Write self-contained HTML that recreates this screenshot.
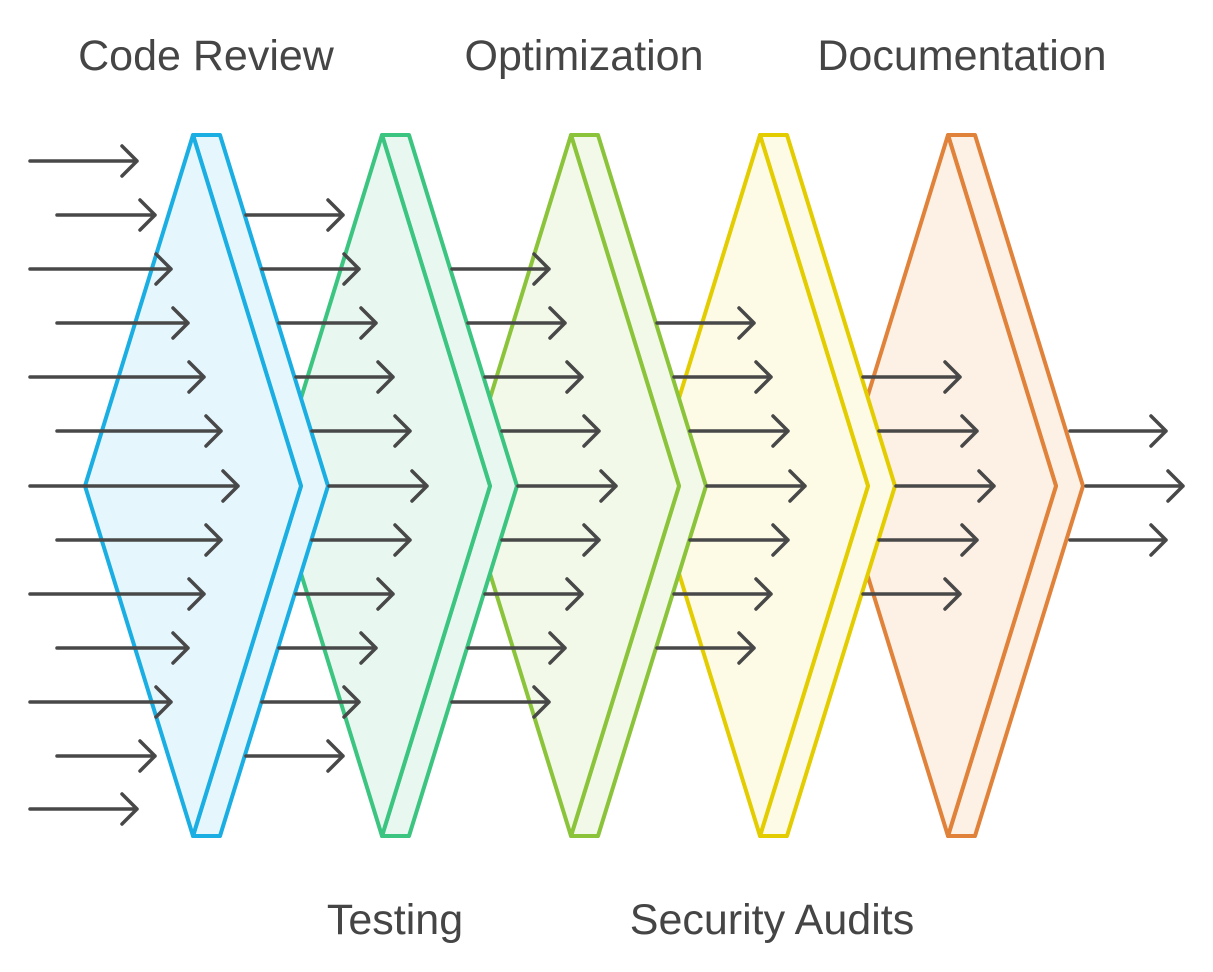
<!DOCTYPE html>
<html><head><meta charset="utf-8"><style>
html,body{margin:0;padding:0;background:#fff;}
svg{display:block;}
text{font-family:"Liberation Sans",sans-serif;font-size:43px;fill:#454545;}
</style></head><body>
<svg width="1213" height="972" viewBox="0 0 1213 972" xmlns="http://www.w3.org/2000/svg">
<defs>
<g id="stage">
<polygon points="0,0 27,0 135,351 27,701 0,701 108,351"/>
<polygon points="-108,351 0,0 108,351 0,701"/>
</g>
</defs>
<g stroke-width="4" stroke-linejoin="round">
<g transform="translate(948,135)" fill="#fdf0e5" stroke="#e0823a"><use href="#stage"/></g>
<g transform="translate(760,135)" fill="#fdfbe6" stroke="#e3cc00"><use href="#stage"/></g>
<g transform="translate(571,135)" fill="#f2f9e8" stroke="#8bc43a"><use href="#stage"/></g>
<g transform="translate(382,135)" fill="#e8f8f0" stroke="#3cc481"><use href="#stage"/></g>
<g transform="translate(193,135)" fill="#e5f6fd" stroke="#1aaee3"><use href="#stage"/></g>
</g>
<g stroke="#484848" stroke-width="3.5" fill="none" stroke-linecap="round" stroke-linejoin="round">
<path d="M30 161H137M122 146L137 161L122 176"/>
<path d="M57 215H155M140 200L155 215L140 230"/>
<path d="M30 269H171M156 254L171 269L156 284"/>
<path d="M57 323H188M173 308L188 323L173 338"/>
<path d="M30 377H204M189 362L204 377L189 392"/>
<path d="M57 431H221M206 416L221 431L206 446"/>
<path d="M30 486H238M223 471L238 486L223 501"/>
<path d="M57 540H221M206 525L221 540L206 555"/>
<path d="M30 594H204M189 579L204 594L189 609"/>
<path d="M57 648H188M173 633L188 648L173 663"/>
<path d="M30 702H171M156 687L171 702L156 717"/>
<path d="M57 756H155M140 741L155 756L140 771"/>
<path d="M30 809H137M122 794L137 809L122 824"/>
<path d="M246 215H343M328 200L343 215L328 230"/>
<path d="M262 269H359M344 254L359 269L344 284"/>
<path d="M279 323H376M361 308L376 323L361 338"/>
<path d="M296 377H393M378 362L393 377L378 392"/>
<path d="M312 431H410M395 416L410 431L395 446"/>
<path d="M329 486H427M412 471L427 486L412 501"/>
<path d="M312 540H410M395 525L410 540L395 555"/>
<path d="M296 594H393M378 579L393 594L378 609"/>
<path d="M279 648H376M361 633L376 648L361 663"/>
<path d="M262 702H359M344 687L359 702L344 717"/>
<path d="M246 756H343M328 741L343 756L328 771"/>
<path d="M452 269H549M534 254L549 269L534 284"/>
<path d="M468 323H565M550 308L565 323L550 338"/>
<path d="M485 377H582M567 362L582 377L567 392"/>
<path d="M502 431H599M584 416L599 431L584 446"/>
<path d="M518 486H616M601 471L616 486L601 501"/>
<path d="M502 540H599M584 525L599 540L584 555"/>
<path d="M485 594H582M567 579L582 594L567 609"/>
<path d="M468 648H565M550 633L565 648L550 663"/>
<path d="M452 702H549M534 687L549 702L534 717"/>
<path d="M657 323H754M739 308L754 323L739 338"/>
<path d="M674 377H771M756 362L771 377L756 392"/>
<path d="M690 431H788M773 416L788 431L773 446"/>
<path d="M707 486H805M790 471L805 486L790 501"/>
<path d="M690 540H788M773 525L788 540L773 555"/>
<path d="M674 594H771M756 579L771 594L756 609"/>
<path d="M657 648H754M739 633L754 648L739 663"/>
<path d="M863 377H960M945 362L960 377L945 392"/>
<path d="M879 431H977M962 416L977 431L962 446"/>
<path d="M896 486H994M979 471L994 486L979 501"/>
<path d="M879 540H977M962 525L977 540L962 555"/>
<path d="M863 594H960M945 579L960 594L945 609"/>
<path d="M1070 431H1166M1151 416L1166 431L1151 446"/>
<path d="M1086 486H1183M1168 471L1183 486L1168 501"/>
<path d="M1070 540H1166M1151 525L1166 540L1151 555"/>
</g>
<text x="206" y="70" text-anchor="middle">Code Review</text>
<text x="584" y="70" text-anchor="middle">Optimization</text>
<text x="962" y="70" text-anchor="middle">Documentation</text>
<text x="395" y="934" text-anchor="middle">Testing</text>
<text x="772" y="934" text-anchor="middle">Security Audits</text>
</svg>
</body></html>
